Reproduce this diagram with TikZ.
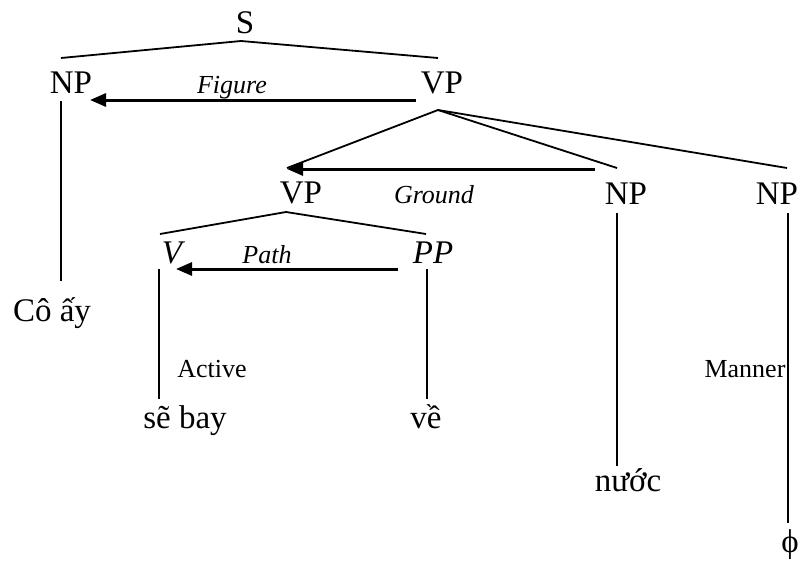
\documentclass[tikz,border=0pt]{standalone}
\usepackage{fontspec}
\setmainfont{Liberation Serif}
\usetikzlibrary{arrows.meta}
\newcommand{\wordSize}[0]{\fontsize{33}{38}\selectfont}
\newcommand{\roleSize}[0]{\fontsize{26}{30}\selectfont}

\begin{document}
\begin{tikzpicture}[x=1pt, y=-1pt]
  \tikzset{word/.style={font=\wordSize, anchor=base, inner sep=0pt},
           catit/.style={font=\wordSize\itshape, anchor=base, inner sep=0pt},
           role/.style={font=\roleSize\itshape, anchor=base, inner sep=0pt},
           note/.style={font=\roleSize, anchor=base, inner sep=0pt},
           branch/.style={line width=1.8pt},
           relation/.style={line width=3pt, -{Triangle[length=16pt,width=13pt]}}}
  \useasboundingbox (0,0) rectangle (800,562);
  \node[word](s) at (245,33) {S};
  \node[word](np1) at (71,93) {NP};
  \node[word](vp1) at (442,93) {VP};
  \node[role](fig) at (232,93) {Figure};
  \node[word](vp2) at (301,203) {VP};
  \node[role](grd) at (434,203) {Ground};
  \node[word](np2) at (626,204) {NP};
  \node[word](np3) at (777,204) {NP};
  \node[catit](v) at (172,263) {V};
  \node[role](pth) at (267,263) {Path};
  \node[catit](pp) at (433,263) {PP};
  \node[word](coay) at (52,321) {Cô ấy};
  \node[note](act) at (212,377) {Active};
  \node[note](man) at (745,377) {Manner};
  \node[word](sebay) at (185,428) {sẽ bay};
  \node[word](ve) at (426,428) {về};
  \node[word](nuoc) at (628,491) {nước};
  \node[word](phi) at (790,552) {ϕ};
  \coordinate (s-top) at (241,41);
  \coordinate (np1-top) at (61,58);
  \coordinate (vp1-top) at (438,58);
  \coordinate (vp1-bot) at (438,110);
  \coordinate (vp2-top) at (287,168);
  \coordinate (np2-top) at (617,168);
  \coordinate (np3-top) at (787,168);
  \coordinate (vp2-bot) at (286,212);
  \coordinate (v-top) at (160,234);
  \coordinate (pp-top) at (426,234);
  \coordinate (np1-bot) at (61,101);
  \coordinate (coay-top) at (61,281);
  \coordinate (np2-bot) at (617,213);
  \coordinate (nuoc-top) at (617,466);
  \coordinate (np3-bot) at (788,213);
  \coordinate (phi-top) at (788,523);
  \coordinate (v-bot) at (159,269);
  \coordinate (sebay-top) at (159,399);
  \coordinate (pp-bot) at (427,269);
  \coordinate (ve-top) at (427,399);
  \coordinate (fig-from) at (416,100);
  \coordinate (fig-to) at (90,100);
  \coordinate (grd-from) at (595,169);
  \coordinate (grd-to) at (287,169);
  \coordinate (pth-from) at (398,269);
  \coordinate (pth-to) at (176,269);
  \draw[branch] (np1-top) -- (s-top) -- (vp1-top);
  \draw[branch] (vp2-top) -- (vp1-bot) -- (np2-top);
  \draw[branch] (vp1-bot) -- (np3-top);
  \draw[branch] (v-top) -- (vp2-bot) -- (pp-top);
  \draw[branch] (np1-bot) -- (coay-top);
  \draw[branch] (v-bot) -- (sebay-top);
  \draw[branch] (pp-bot) -- (ve-top);
  \draw[branch] (np2-bot) -- (nuoc-top);
  \draw[branch] (np3-bot) -- (phi-top);
  \draw[relation] (fig-from) -- (fig-to);
  \draw[relation] (grd-from) -- (grd-to);
  \draw[relation] (pth-from) -- (pth-to);
\end{tikzpicture}
\end{document}
